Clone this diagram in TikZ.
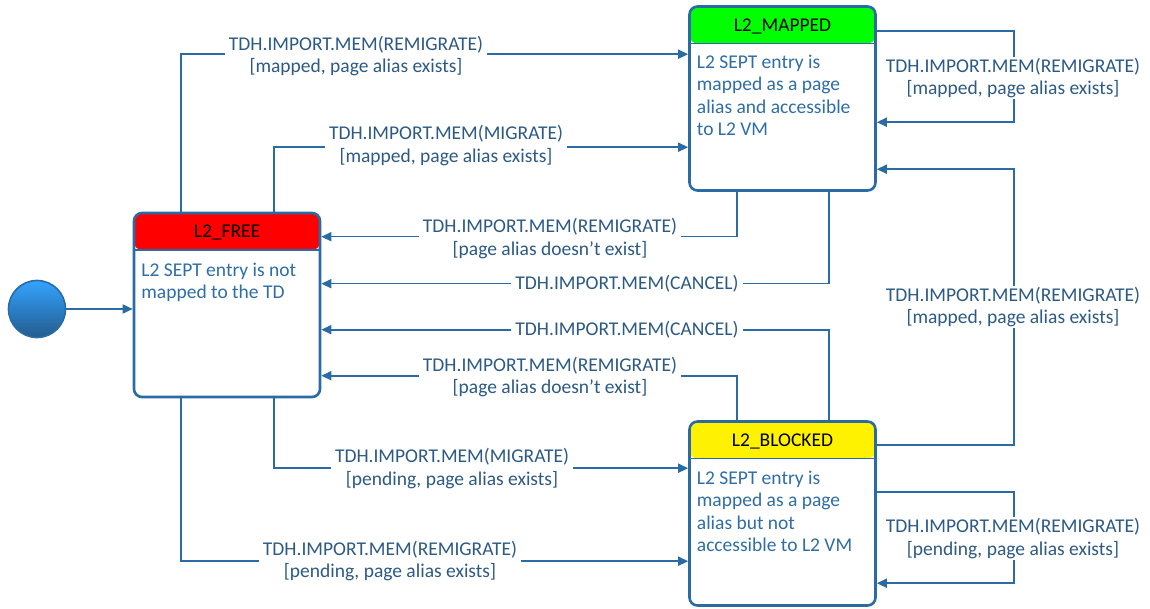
\documentclass[tikz,border=0pt]{standalone}
\usepackage{fontspec}
\setmainfont{Carlito}
\usepackage{xcolor}
\usetikzlibrary{arrows.meta, positioning, calc}
\definecolor{linec}{HTML}{2A6BA6}
\definecolor{lblc}{HTML}{2C5A85}
\definecolor{bodyc}{HTML}{2E6EA8}
\tikzset{
  %% State box with coloured header band
  state/.style={
    rectangle, rounded corners=8pt,
    draw=linec, fill=white, line width=2.6pt,
    minimum width=186pt, minimum height=184pt, inner sep=0pt,
    path picture={
      \fill[#1] (path picture bounding box.north west) rectangle
        ([yshift=-37pt]path picture bounding box.north east);
      \draw[linec, line width=1.6pt]
        ([yshift=-37pt]path picture bounding box.north west) --
        ([yshift=-37pt]path picture bounding box.north east);
    }
  },
  state/.default=red,
  %% State title
  ttl/.style={text=black, inner sep=0pt, text height=12.6pt, text depth=0pt},
  %% State description
  body/.style={text=bodyc, align=left, inner sep=0pt, anchor=north west},
  %% Transition label
  lbl/.style={text=lblc, fill=white, align=center,
              inner xsep=4pt, inner ysep=1pt},
  %% Arrow
  arr/.style={-{Triangle[length=10pt,width=9pt]},
              draw=linec, line width=1.6pt},
  %% Initial state
  init/.style={circle, minimum size=57pt, draw=linec, line width=1.6pt,
               top color=blue!45!cyan!80!white, bottom color=linec!85!black}
}

\begin{document}
\begin{tikzpicture}[x=1pt, y=-1pt,
  every node/.style={font=\fontsize{19.5}{22.5}\selectfont}]

  \useasboundingbox (0,0) rectangle (1150,609);

  %% States
  \node[state=red]        (free)    at (227,305)     {};
  \node[state=green]      (mapped)  at (782.5,98.5)  {};
  \node[state=yellow]     (blocked) at (782.5,513.5) {};

  \node[ttl] (freettl)    at ($(free.north)+(0,20)$)    {L2\_FREE};
  \node[ttl] (mappedttl)  at ($(mapped.north)+(0,20)$)  {L2\_MAPPED};
  \node[ttl] (blockedttl) at ($(blocked.north)+(0,20)$) {L2\_BLOCKED};

  \node[body] (freetxt)    at ($(free.north west)+(8.5,51)$)
       {L2 SEPT entry is not\\mapped to the TD};
  \node[body] (mappedtxt)  at ($(mapped.north west)+(8.5,49.5)$)
       {L2 SEPT entry is\\mapped as a page\\alias and accessible\\to L2 VM};
  \node[body] (blockedtxt) at ($(blocked.north west)+(8.5,50.5)$)
       {L2 SEPT entry is\\mapped as a page\\alias but not\\accessible to L2 VM};

  %% Initial state
  \node[init] (start) at (37,309) {};
  \draw[arr] (start) -- (start -| free.west);

  %% FREE -> MAPPED
  \draw[arr] ($(free.north west)+(48,0)$)  |- ($(mapped.north west)+(0,49)$);
  \draw[arr] ($(free.north west)+(141,0)$) |- ($(mapped.north west)+(0,142)$);

  %% MAPPED -> FREE
  \draw[arr] ($(mapped.south west)+(49,0)$)  |- ($(free.north east)+(0,25)$);
  \draw[arr] ($(mapped.south west)+(141,0)$) |- ($(free.north east)+(0,72)$);

  %% BLOCKED -> FREE
  \draw[arr] ($(blocked.north west)+(141,0)$) |- ($(free.north east)+(0,118)$);
  \draw[arr] ($(blocked.north west)+(49,0)$)  |- ($(free.north east)+(0,164)$);

  %% FREE -> BLOCKED
  \draw[arr] ($(free.south west)+(141,0)$) |- ($(blocked.north west)+(0,48)$);
  \draw[arr] ($(free.south west)+(48,0)$)  |- ($(blocked.north west)+(0,141)$);

  %% Right-hand loops
  \draw[arr] ($(mapped.north east)+(0,26)$) -| ($(mapped.north east)+(137,117)$)
             -- ($(mapped.north east)+(0,117)$);
  \draw[arr] ($(blocked.north east)+(0,25)$) -| ($(mapped.north east)+(137,164)$)
             -- ($(mapped.north east)+(0,164)$);
  \draw[arr] ($(blocked.north east)+(0,72)$) -| ($(blocked.north east)+(137,163)$)
             -- ($(blocked.north east)+(0,163)$);

  %% Transition labels
  \node[lbl] (lremap)   at (356,56)
       {TDH.IMPORT.MEM(REMIGRATE)\\{[mapped, page alias exists]}};
  \node[lbl] (lmigmap)  at (446,145.5)
       {TDH.IMPORT.MEM(MIGRATE)\\{[mapped, page alias exists]}};
  \node[lbl] (lremfrA)  at (550,238.5)
       {TDH.IMPORT.MEM(REMIGRATE)\\{[page alias doesn’t exist]}};
  \node[lbl] (lcanA)    at (627,284) {TDH.IMPORT.MEM(CANCEL)};
  \node[lbl] (lcanB)    at (627,330) {TDH.IMPORT.MEM(CANCEL)};
  \node[lbl] (lremfrB)  at (550,377)
       {TDH.IMPORT.MEM(REMIGRATE)\\{[page alias doesn’t exist]}};
  \node[lbl] (lmigblk)  at (452,468.5)
       {TDH.IMPORT.MEM(MIGRATE)\\{[pending, page alias exists]}};
  \node[lbl] (lremblk)  at (390,561)
       {TDH.IMPORT.MEM(REMIGRATE)\\{[pending, page alias exists]}};
  \node[lbl] (lloopmap) at (1013,78)
       {TDH.IMPORT.MEM(REMIGRATE)\\{[mapped, page alias exists]}};
  \node[lbl] (lblkmap)  at (1013,307)
       {TDH.IMPORT.MEM(REMIGRATE)\\{[mapped, page alias exists]}};
  \node[lbl] (lloopblk) at (1013,538.5)
       {TDH.IMPORT.MEM(REMIGRATE)\\{[pending, page alias exists]}};

\end{tikzpicture}
\end{document}
